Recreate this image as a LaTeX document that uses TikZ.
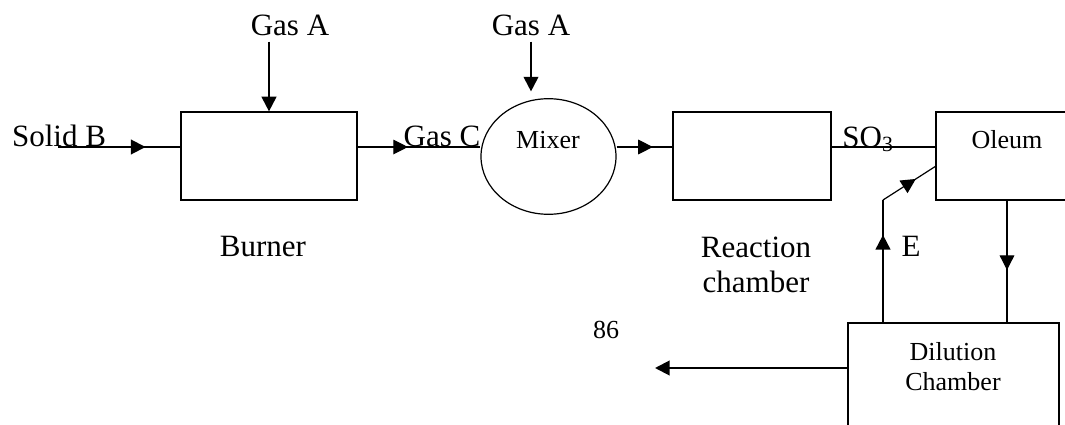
\documentclass[tikz,border=0pt]{standalone}
\usepackage{fontspec}
\setmainfont{Liberation Serif}
\usepackage{tikz}
\usetikzlibrary{arrows.meta, shapes.geometric, calc, decorations.markings}

\tikzset{
    unit/.style={draw, line width=0.9pt, inner sep=0pt},
    txt/.style={inner sep=0pt, anchor=base, align=center, font=\fontsize{23.25}{26.25}\selectfont},
    smalltxt/.style={inner sep=0pt, anchor=base, align=center, font=\fontsize{19.5}{22.5}\selectfont},
    flow/.style={line width=0.9pt},
    feed/.style={line width=1.5pt, -{Triangle[length=11pt, width=11pt]}},
    midarrow/.style={postaction={decorate}, decoration={markings,
        mark=at position #1 with {\arrow{Triangle[length=11pt, width=11pt]}}}}
}

\begin{document}
\begin{tikzpicture}[x=0.75pt, y=-0.75pt]
\clip (0,0) rectangle (1065,425);
% Units
\node[unit, minimum width=132pt, minimum height=66pt] (burner) at (269,156) {};
\node[unit, ellipse, minimum width=101.25pt, minimum height=86.7pt] (mixer) at (548.5,156.5) {};
\node[unit, minimum width=118.5pt, minimum height=66pt] (reactor) at (752,156) {};
\node[unit, minimum width=106.5pt, minimum height=66pt] (oleum) at (1007,156) {};
\node[unit, minimum width=158.25pt, minimum height=102.75pt] (dilution) at (953.5,391.5) {};
% Labels (two-line nodes sit on their last baseline)
\node[txt] (gasa1) at (290,35) {Gas A};
\node[txt] (gasa2) at (531,35) {Gas A};
\node[txt] (solidb) at (59,146) {Solid B};
\node[txt] (gasc) at (442,146) {Gas C};
\node[txt] (so3) at (868,147) {SO\textsubscript{3}};
\node[txt] (burnerlbl) at (263,256) {Burner};
\node[txt] (reactorlbl) at (756,292) {Reaction\\chamber};
\node[txt] (elbl) at (911,256) {E};
\node[smalltxt] (mixerlbl) at (548,148) {Mixer};
\node[smalltxt] (oleumlbl) at (1007,148) {Oleum};
\node[smalltxt] (pagenum) at (606,338) {86};
\node[smalltxt] (dilutionlbl) at (953,390) {Dilution\\Chamber};
% Free ends
\coordinate (flowline) at (0,147);
\coordinate (sb) at (58,147);
\coordinate (bend) at (883,200);
\coordinate (ein) at (936,166);
\coordinate (prod) at (655,368);
% Main line
\draw[flow] (sb) -- (burner.west |- flowline);
\draw[feed] ($(sb)!0.42!(burner.west |- flowline)$) -- ($(sb)!0.715!(burner.west |- flowline)$);
\draw[feed, shorten <=4.5pt] (burner.north |- gasa1.south) -- (burner.north);
\draw[flow, midarrow=0.41] (burner.east |- flowline) -- (mixer.west |- flowline);
\draw[feed, shorten <=4.5pt, shorten >=5pt] (gasa2.south) -- (gasa2.south |- mixer.north);
\draw[flow, midarrow=0.65] (mixer.east |- flowline) -- (reactor.west |- flowline);
\draw[flow] (reactor.east |- flowline) -- (oleum.west |- flowline);
% Oleum loop
\draw[flow, midarrow=0.57] (oleum.south) -- (oleum.south |- dilution.north);
\draw[flow] (bend |- dilution.north) -- (bend);
\draw[flow, midarrow=0.62] (bend) -- (ein);
\draw[feed] ($(bend |- dilution.north)!0.415!(bend)$) -- ($(bend |- dilution.north)!0.715!(bend)$);
\draw[feed] (prod -| dilution.west) -- (prod);
\end{tikzpicture}
\end{document}
